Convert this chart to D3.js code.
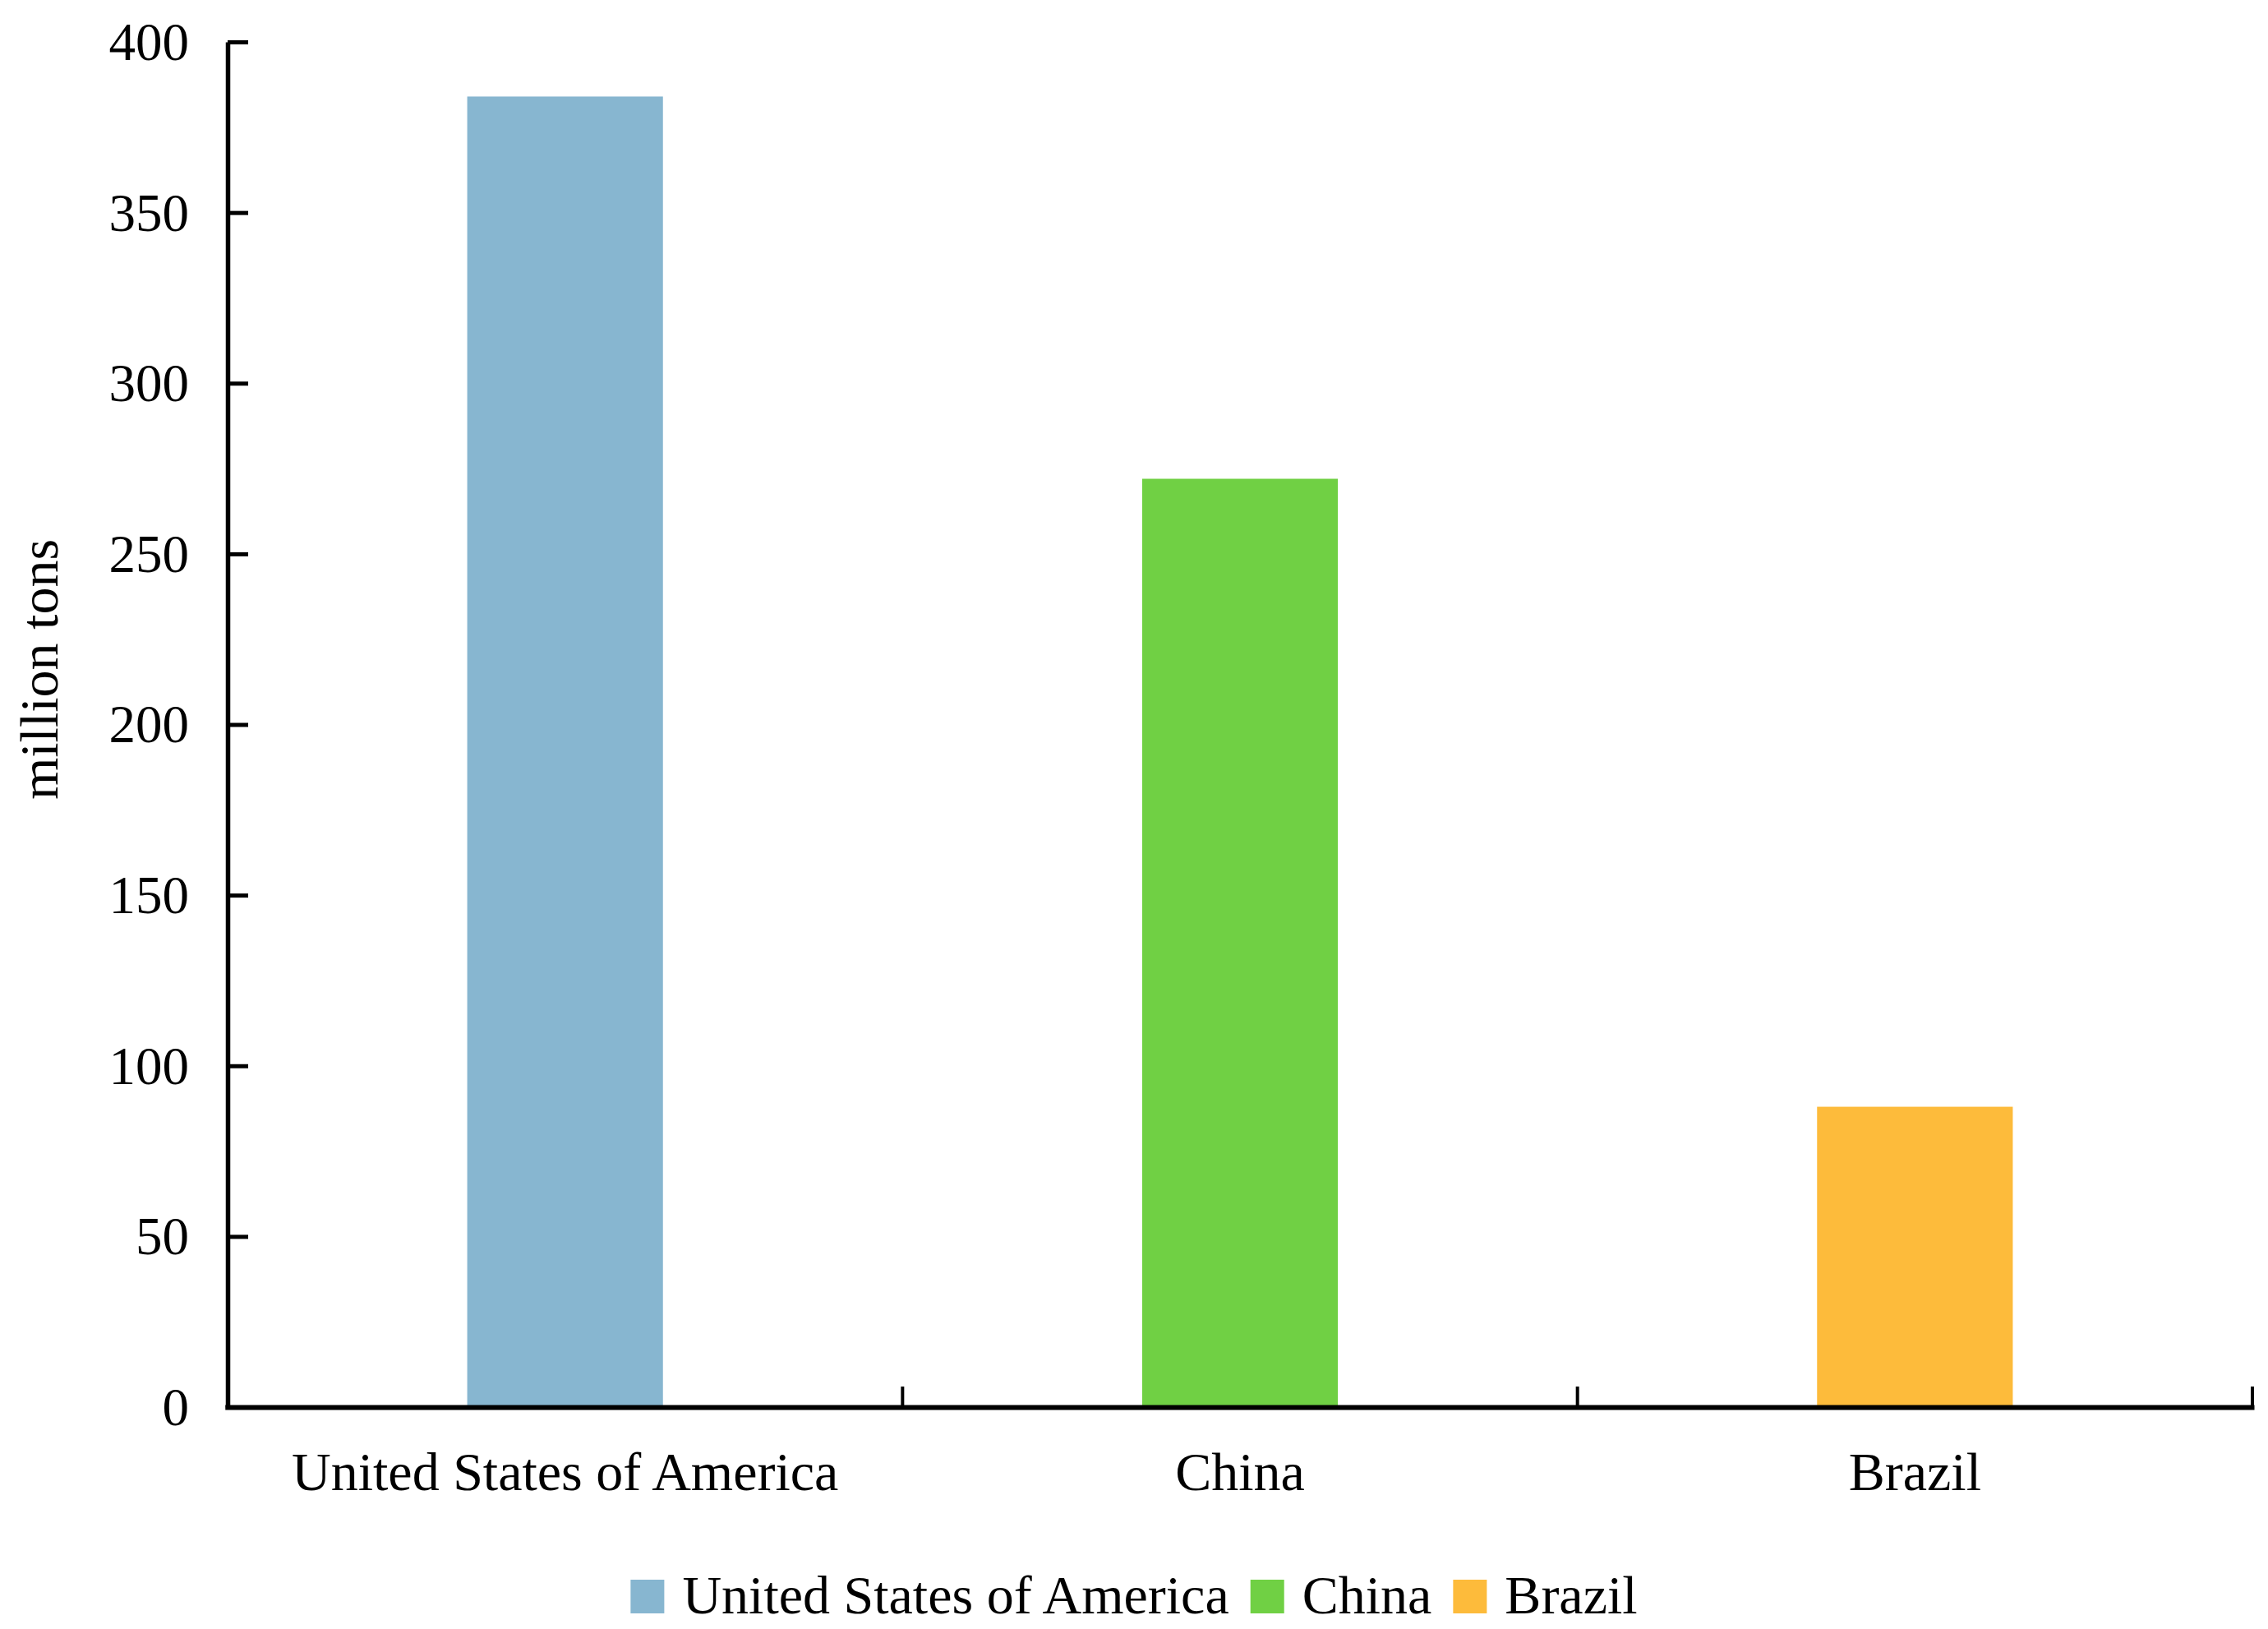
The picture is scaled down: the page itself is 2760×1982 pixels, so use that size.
<!DOCTYPE html>
<html>
<head>
<meta charset="utf-8">
<script src="https://cdn.jsdelivr.net/npm/d3@7"></script>
<style>
  html, body { margin: 0; padding: 0; background: #fff; }
  svg { display: block; }
  text { font-family: "Liberation Serif", "Times New Roman", serif; fill: #000; }
</style>
</head>
<body>
<svg id="chart" width="2760" height="1982"></svg>
<script>
const categories = ["United States of America", "China", "Brazil"];
const values = [384, 272, 88];
const colors = ["#87B6D0", "#70D044", "#FDBB3B"];
const yTicks = [0, 50, 100, 150, 200, 250, 300, 350, 400];
const yLabel = "million tons";

const W = 2760, H = 1982;
const mLeft = 277, mRight = 2741, mTop = 51, mBottom = 1712;
const FS = 66;

const svg = d3.select("#chart");

const x = d3.scaleBand().domain(categories).range([mLeft, mRight])
  .paddingInner(0.71).paddingOuter(0.355);
const y = d3.scaleLinear().domain([0, 400]).range([mBottom, mTop]);

// bars
svg.append("g").selectAll("rect").data(categories).join("rect")
  .attr("x", d => x(d))
  .attr("width", x.bandwidth())
  .attr("y", (d, i) => y(values[i]))
  .attr("height", (d, i) => y(0) - y(values[i]))
  .attr("fill", (d, i) => colors[i]);

// y axis
const yAxis = svg.append("g").attr("transform", `translate(${mLeft},0)`)
  .call(d3.axisLeft(y).tickValues(yTicks).tickSizeInner(-25).tickSizeOuter(0).tickPadding(47));
yAxis.select(".domain").attr("stroke", "#000").attr("stroke-width", 5.5);
yAxis.selectAll(".tick line").attr("stroke", "#000").attr("stroke-width", 5);
yAxis.selectAll(".tick text").attr("font-size", 65).attr("dy", "0.33em")
  .style("font-family", "'Liberation Serif', 'Times New Roman', serif").attr("fill", "#000");

// x axis (labels at band centers)
const xAxis = svg.append("g").attr("transform", `translate(0,${mBottom})`)
  .call(d3.axisBottom(x).tickSize(0).tickPadding(0));
xAxis.select(".domain").remove();
xAxis.selectAll(".tick text").attr("font-size", FS).attr("dy", null).attr("y", 101)
  .style("font-family", "'Liberation Serif', 'Times New Roman', serif").attr("fill", "#000");

// x axis line
svg.append("line")
  .attr("x1", mLeft - 2.75).attr("x2", mRight + 2.5)
  .attr("y1", mBottom + 0.5).attr("y2", mBottom + 0.5)
  .attr("stroke", "#000").attr("stroke-width", 6);

// category boundary ticks (pointing up)
const step = x.step();
svg.append("g").selectAll("line").data(categories).join("line")
  .attr("x1", (d, i) => mLeft + step * (i + 1))
  .attr("x2", (d, i) => mLeft + step * (i + 1))
  .attr("y1", mBottom).attr("y2", mBottom - 25)
  .attr("stroke", "#000").attr("stroke-width", 4);

// y label
svg.append("text")
  .attr("transform", `translate(70,${(mTop + mBottom) / 2 - 67}) rotate(-90)`)
  .attr("text-anchor", "middle")
  .attr("font-size", FS)
  .text(yLabel);

// legend
const legend = svg.append("g");
const sw = 41, gapSwatch = 22, gapItem = 26;
const items = legend.selectAll("g").data(categories).join("g");
items.append("rect").attr("width", sw).attr("height", sw).attr("y", 1922)
  .attr("fill", (d, i) => colors[i]);
items.append("text").attr("x", sw + gapSwatch).attr("y", 1963)
  .attr("font-size", FS).text(d => d);
let widths = [];
items.each(function () { widths.push(this.querySelector("text").getComputedTextLength()); });
const total = d3.sum(widths.map(w => sw + gapSwatch + w)) + gapItem * (categories.length - 1);
let cx = W / 2 - total / 2;
items.each(function (d, i) {
  d3.select(this).attr("transform", `translate(${cx},0)`);
  cx += sw + gapSwatch + widths[i] + gapItem;
});
</script>
</body>
</html>
